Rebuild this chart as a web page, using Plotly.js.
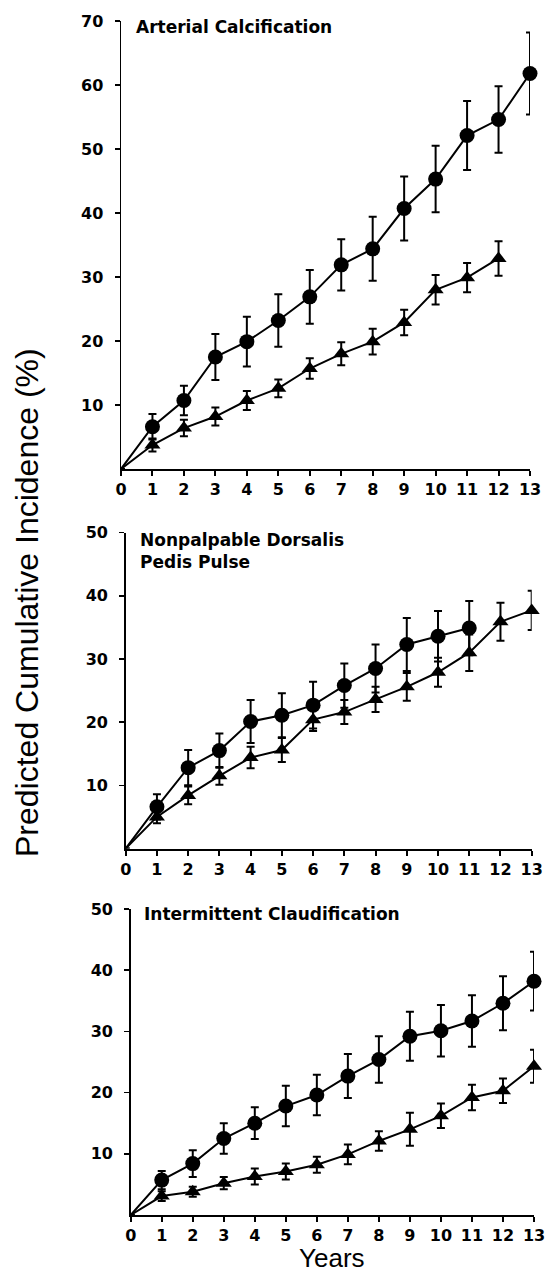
<!DOCTYPE html>
<html>
<head>
<meta charset="utf-8">
<script src="https://cdn.plot.ly/plotly-3.0.1.min.js"></script>
<style>html,body{margin:0;padding:0;background:#fff;}#chart{width:548px;height:1275px;}</style>
</head>
<body>
<div id="chart"></div>
<script>
// ---- data ----
var years = [0,1,2,3,4,5,6,7,8,9,10,11,12,13];
var xTickLabels = ["0","1","2","3","4","5","6","7","8","9","10","11","12","13"];
var panelTitles = ["Arterial Calcification", "Nonpalpable Dorsalis<br>Pedis Pulse", "Intermittent Claudification"];
var yAxisTitle = "Predicted Cumulative Incidence (%)";
var xAxisTitle = "Years";

var calcCircle    = [0, 6.6, 10.7, 17.5, 19.9, 23.2, 26.9, 31.9, 34.4, 40.7, 45.3, 52.1, 54.6, 61.8];
var calcCircleErr = [0, 2.0, 2.3, 3.6, 3.9, 4.1, 4.2, 4.0, 5.0, 5.0, 5.2, 5.4, 5.2, 6.4];
var calcTri       = [0, 3.75, 6.4, 8.2, 10.7, 12.6, 15.7, 18.0, 19.9, 22.9, 28.0, 29.9, 32.9];
var calcTriErr    = [0, 1.0, 1.3, 1.4, 1.5, 1.4, 1.6, 1.8, 2.0, 2.0, 2.3, 2.3, 2.7];

var pulseCircle    = [0, 6.6, 12.8, 15.5, 20.1, 21.1, 22.7, 25.8, 28.5, 32.3, 33.6, 34.9];
var pulseCircleErr = [0, 2.0, 2.8, 2.7, 3.4, 3.5, 3.7, 3.5, 3.8, 4.2, 4.0, 4.3];
var pulseTri       = [0, 5.0, 8.4, 11.5, 14.4, 15.6, 20.4, 21.6, 23.6, 25.6, 27.9, 31.0, 35.9, 37.7];
var pulseTriErr    = [0, 1.0, 1.4, 1.4, 1.7, 1.9, 1.8, 1.9, 2.0, 2.2, 2.3, 2.9, 3.0, 3.1];

var claudCircle    = [0, 5.7, 8.4, 12.5, 15.0, 17.8, 19.6, 22.7, 25.4, 29.2, 30.1, 31.7, 34.6, 38.2];
var claudCircleErr = [0, 1.5, 2.2, 2.5, 2.6, 3.3, 3.3, 3.6, 3.8, 4.0, 4.2, 4.2, 4.4, 4.8];
var claudTri       = [0, 3.1, 3.8, 5.2, 6.3, 7.1, 8.2, 9.9, 12.1, 14.0, 16.2, 19.2, 20.3, 24.3];
var claudTriErr    = [0, 0.8, 0.8, 1.0, 1.3, 1.3, 1.3, 1.6, 1.6, 2.7, 2.0, 2.1, 2.0, 2.7];

var yMax = [70, 50, 50];
var yTicks = [[10,20,30,40,50,60,70],[10,20,30,40,50],[10,20,30,40,50]];

// ---- layout helpers ----
var W = 548, H = 1275;
function fx(px){ return px / W; }
function fy(px){ return 1 - px / H; }

// pixel boxes of the three plot areas [left, right, top, bottom]
var boxes = [[121, 530, 21, 469], [125.7, 531.7, 532.7, 848.5], [130.7, 534, 909, 1215]];

function series(xs, ys, errs, symbol, size, xa, ya) {
  var x = xs.slice(0, ys.length);
  return {
    x: x, y: ys, xaxis: xa, yaxis: ya, type: 'scatter', mode: 'lines+markers',
    line: {color: '#000', width: 2},
    marker: {symbol: symbol, color: '#000', opacity: 1, line: {width: 0, color: '#000'},
             size: x.map(function(v){ return v === 0 ? 0 : size; })},
    error_y: {type: 'data', array: errs, visible: true, color: '#000', thickness: 2, width: 4},
    hoverinfo: 'skip', showlegend: false, cliponaxis: false
  };
}

var traces = [
  series(years, calcTri, calcTriErr, 'triangle-up', 14, 'x', 'y'),
  series(years, calcCircle, calcCircleErr, 'circle', 15, 'x', 'y'),
  series(years, pulseTri, pulseTriErr, 'triangle-up', 14, 'x2', 'y2'),
  series(years, pulseCircle, pulseCircleErr, 'circle', 15, 'x2', 'y2'),
  series(years, claudTri, claudTriErr, 'triangle-up', 14, 'x3', 'y3'),
  series(years, claudCircle, claudCircleErr, 'circle', 15, 'x3', 'y3')
];

var tickFont = {family: 'DejaVu Sans, Liberation Sans, Arial, sans-serif', size: 16, color: '#000', weight: 'bold'};
var layout = {
  width: W, height: H,
  margin: {l: 0, r: 0, t: 0, b: 0},
  paper_bgcolor: '#fff', plot_bgcolor: '#fff',
  showlegend: false,
  annotations: []
};

var titleY = [27, 551, 914];
var titleX = [134, 138, 142];
for (var i = 0; i < 3; i++) {
  var b = boxes[i];
  var sfx = i === 0 ? '' : String(i + 1);
  layout['xaxis' + sfx] = {
    domain: [fx(b[0]), fx(b[1])], range: [0, 13], anchor: 'y' + sfx,
    showline: true, linecolor: '#000', linewidth: 2, mirror: false,
    showgrid: false, zeroline: false,
    tickmode: 'array', tickvals: years, ticktext: xTickLabels,
    ticks: 'outside', ticklen: 5, tickwidth: 2, tickcolor: '#000',
    tickfont: tickFont, fixedrange: true
  };
  layout['yaxis' + sfx] = {
    domain: [fy(b[3]), fy(b[2])], range: [0, yMax[i]], anchor: 'x' + sfx,
    showline: true, linecolor: '#000', linewidth: 1.5,
    showgrid: false, zeroline: false,
    tickmode: 'array', tickvals: yTicks[i], ticktext: yTicks[i].map(String),
    ticks: 'outside', ticklen: 5, tickwidth: 1.5, tickcolor: '#000',
    ticklabelstandoff: 8,
    tickfont: tickFont, fixedrange: true
  };
  layout.annotations.push({
    xref: 'paper', yref: 'paper', x: fx(titleX[i]), y: fy(titleY[i]),
    xanchor: 'left', yanchor: 'middle', align: 'left', showarrow: false,
    text: panelTitles[i],
    font: {family: 'DejaVu Sans, Liberation Sans, Arial, sans-serif', size: 17, color: '#000', weight: 'bold'}
  });
}

layout.annotations.push({
  xref: 'paper', yref: 'paper', x: fx(27), y: fy(603), textangle: -90,
  xanchor: 'center', yanchor: 'middle', showarrow: false, text: yAxisTitle,
  font: {family: 'Liberation Sans, Arial, sans-serif', size: 32, color: '#000'}
});
layout.annotations.push({
  xref: 'paper', yref: 'paper', x: fx(332), y: fy(1258),
  xanchor: 'center', yanchor: 'middle', showarrow: false, text: xAxisTitle,
  font: {family: 'Liberation Sans, Arial, sans-serif', size: 26, color: '#000'}
});

Plotly.newPlot('chart', traces, layout, {displayModeBar: false, staticPlot: true});
</script>
</body>
</html>
